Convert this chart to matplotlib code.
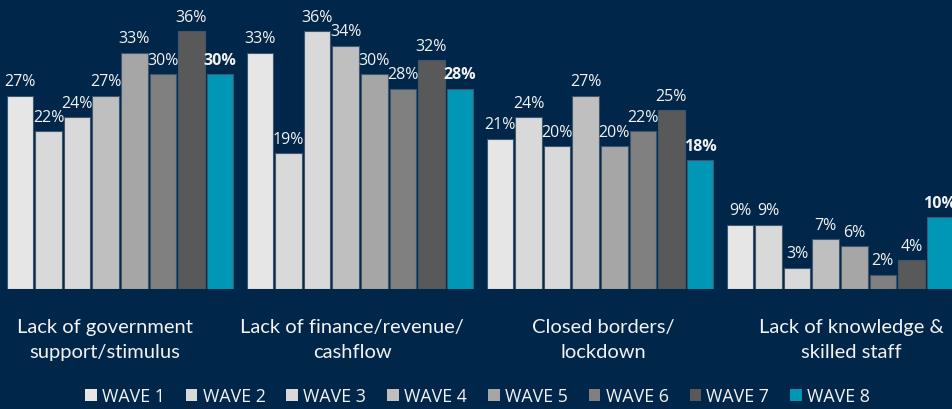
import numpy as np
import matplotlib.pyplot as plt
from matplotlib.patches import Patch

categories = ['Lack of government\nsupport/stimulus',
              'Lack of finance/revenue/\ncashflow',
              'Closed borders/\nlockdown',
              'Lack of knowledge &\nskilled staff']
waves = ['WAVE 1', 'WAVE 2', 'WAVE 3', 'WAVE 4',
         'WAVE 5', 'WAVE 6', 'WAVE 7', 'WAVE 8']
# rows = waves, columns = categories (percent)
values = [
    [27, 33, 21, 9],
    [22, 19, 24, 9],
    [24, 36, 20, 3],
    [27, 34, 27, 7],
    [33, 30, 20, 6],
    [30, 28, 22, 2],
    [36, 32, 25, 4],
    [30, 28, 18, 10],
]
colors = ['#E6E6E6', '#D9D9D9', '#D9D9D9', '#BFBFBF',
          '#A6A6A6', '#808080', '#595959', '#0096B6']

bg = '#00264A'
txt = '#F2F2F2'

fig = plt.figure(figsize=(9.52, 4.10), dpi=100, facecolor=bg)
ax = fig.add_axes([0, 0.2927, 1, 0.7073])
ax.set_facecolor(bg)

x = np.arange(len(categories))
slot = 0.119
for i, (wave, vals) in enumerate(zip(waves, values)):
    pos = x + (i - 3.5) * slot
    bars = ax.bar(pos, vals, width=slot - 0.008, color=colors[i],
                  edgecolor='#3f566e', linewidth=0.8, label=wave)
    bold = i == len(waves) - 1
    for b, v in zip(bars, vals):
        ax.annotate(f'{v}%', (b.get_x() + b.get_width() / 2, v),
                    xytext=(0, 4.5), textcoords='offset points',
                    ha='center', va='bottom', color=txt,
                    fontsize=11.5, family='Open Sans',
                    fontweight='bold' if bold else 'normal',
                    annotation_clip=False)

ax.set_xlim(-0.5, 3.4667)
ax.set_ylim(0, 40.5)
ax.axis('off')

# category labels sit a little off the group centres in the original
label_x = [-0.0625, 0.967, 2.0125, 3.0458]
for lx, cat in zip(label_x, categories):
    ax.text(lx, -4.1, cat, ha='center', va='top', color=txt,
            fontsize=14.5, family='Lato', linespacing=1.55)

handles = [Patch(facecolor=c, edgecolor='none') for c in colors]
fig.legend(handles, waves, loc='lower center', ncol=8,
           bbox_to_anchor=(0.5016, -0.03), frameon=False,
           handlelength=0.65, handleheight=0.65, handletextpad=0.3,
           columnspacing=1.18, prop={'family': 'Open Sans', 'size': 12.8},
           labelcolor=txt)

fig.savefig('out.png', dpi=100, facecolor=bg)
